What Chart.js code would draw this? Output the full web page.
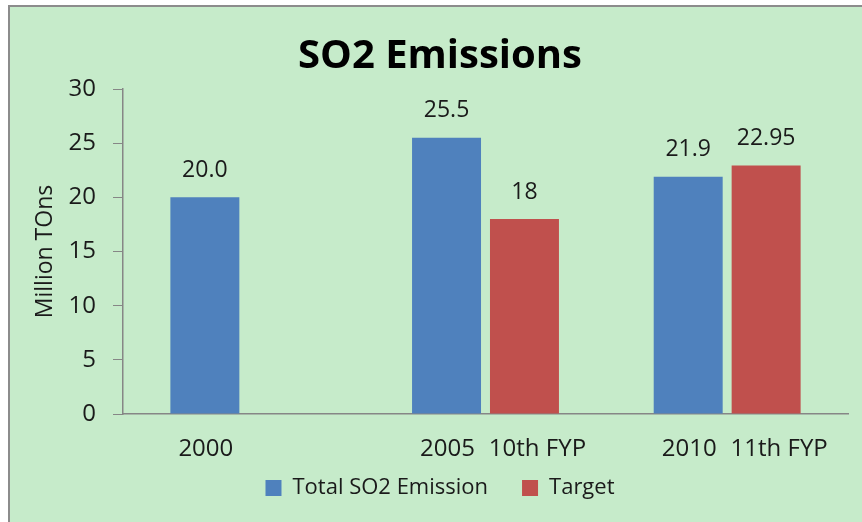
<!DOCTYPE html>
<html>
<head>
<meta charset="utf-8">
<script src="https://cdn.jsdelivr.net/npm/chart.js@4"></script>
<style>
  body { margin: 0; background: #ffffff; }
  #frame {
    position: absolute; left: 8px; top: 5px; width: 860px; height: 520px;
    background: #c6ebca; border-top: 2px solid #8c8c8c; border-left: 2px solid #8c8c8c;
  }
  #wrap { position: absolute; left: 0; top: 0; width: 862px; height: 522px; }
</style>
</head>
<body>
<div id="frame"></div>
<div id="wrap"><canvas id="chart" width="862" height="522"></canvas></div>
<script>
// chart data
const years = ["2000", "2005", "2010"];
const targetNames = ["", "10th FYP", "11th FYP"];
const emissions = [20.0, 25.5, 21.9];
const targets = [null, 18, 22.95];
const emissionText = ["20.0", "25.5", "21.9"];
const targetText = ["", "18", "22.95"];
const yTicks = [0, 5, 10, 15, 20, 25, 30];

const FONT = "'Open Sans', 'DejaVu Sans', sans-serif";
const X_PAD = 13;

// value labels over bars + plan names under the red bars
const barText = {
    id: "barText",
    afterDatasetsDraw(chart) {
        const ctx = chart.ctx;
        const xScale = chart.scales.x;
        ctx.save();
        ctx.fillStyle = "#1a1a1a";
        ctx.textAlign = "center";
        ctx.textBaseline = "middle";
        ctx.font = "23px " + FONT;
        const texts = [emissionText, targetText];
        [0, 1].forEach(d => {
            chart.getDatasetMeta(d).data.forEach((bar, i) => {
                if (texts[d][i] === "" || bar.skip) return;
                ctx.fillText(texts[d][i], bar.x, bar.y - 27);
            });
        });
        ctx.font = "24px " + FONT;
        chart.getDatasetMeta(1).data.forEach((bar, i) => {
            if (!targetNames[i]) return;
            ctx.fillText(targetNames[i], bar.x + 13, xScale.top + 8 + X_PAD + 14);
        });
        ctx.restore();
    }
};

new Chart(document.getElementById("chart"), {
    type: "bar",
    data: {
        labels: years,
        datasets: [{
            label: "Total SO2 Emission",
            data: emissions,
            backgroundColor: "#4f81bd"
        }, {
            label: "Target",
            data: targets,
            backgroundColor: "#c0504d"
        }]
    },
    options: {
        responsive: false,
        animation: false,
        categoryPercentage: 0.645,
        barPercentage: 0.885,
        layout: { padding: { left: 32, right: 14, top: 14, bottom: 13 } },
        plugins: {
            title: {
                display: true,
                text: "SO2 Emissions",
                color: "#000",
                font: { family: FONT, size: 40, weight: "bold" },
                padding: { top: 19, bottom: 8 }
            },
            legend: {
                position: "bottom",
                labels: {
                    color: "#1a1a1a",
                    font: { family: FONT, size: 22 },
                    boxWidth: 16,
                    boxHeight: 16,
                    padding: 12,
                    generateLabels(chart) {
                        // extra room between the two legend entries
                        const items = Chart.defaults.plugins.legend.labels.generateLabels(chart);
                        items[0].text = items[0].text + "\u2003";
                        return items;
                    }
                }
            },
            tooltip: { enabled: false }
        },
        scales: {
            x: {
                grid: { display: false },
                border: { color: "#868686", width: 1.5 },
                afterFit(scale) { scale.height = 51; },
                ticks: {
                    color: "#1a1a1a",
                    font: { family: FONT, size: 24 },
                    padding: X_PAD,
                    labelOffset: -38
                }
            },
            y: {
                min: 0,
                max: 30,
                afterBuildTicks(scale) {
                    scale.ticks = yTicks.map(v => ({ value: v }));
                },
                afterFit(scale) { scale.width = 91; },
                grid: { drawOnChartArea: false, drawTicks: true, tickLength: 10, color: "#868686" },
                border: { color: "#868686", width: 1.5 },
                ticks: {
                    color: "#1a1a1a",
                    font: { family: FONT, size: 24 },
                    padding: 17
                },
                title: {
                    display: true,
                    text: "Million TOns",
                    color: "#1a1a1a",
                    font: { family: FONT, size: 23 },
                    padding: { top: 0, bottom: 9 }
                }
            }
        }
    },
    plugins: [barText]
});
</script>
</body>
</html>
